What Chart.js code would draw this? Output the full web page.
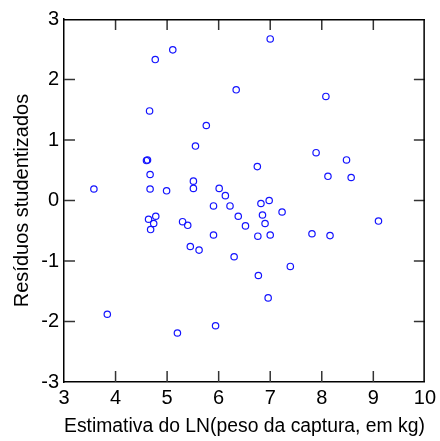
<!DOCTYPE html>
<html>
<head>
<meta charset="utf-8">
<script src="https://cdn.jsdelivr.net/npm/chart.js@4.4.1/dist/chart.umd.min.js"></script>
<style>
html,body{margin:0;padding:0;background:#fff;}
canvas{display:block;}
</style>
</head>
<body>
<canvas id="c" width="440" height="441"></canvas>
<script>
const xValues = [3.58, 4.77, 5.11, 6.34, 4.66, 5.76, 5.55, 4.60, 4.62, 4.67, 5.51, 4.67, 4.99, 5.51, 6.01, 6.13, 6.75, 7.00, 8.08, 7.89, 8.48, 8.12, 8.57, 6.98, 5.90, 6.22, 4.78, 4.64, 4.74, 4.68, 5.30, 5.40, 6.38, 6.52, 6.76, 5.90, 5.45, 5.62, 6.30, 3.84, 5.20, 5.94, 6.82, 6.85, 7.23, 6.90, 7.00, 7.81, 8.16, 9.10, 7.39, 6.77, 6.96];
const yValues = [0.19, 2.33, 2.49, 1.83, 1.48, 1.24, 0.90, 0.66, 0.67, 0.43, 0.32, 0.19, 0.16, 0.20, 0.20, 0.08, 0.56, 2.67, 1.72, 0.79, 0.67, 0.40, 0.38, 0.00, -0.09, -0.09, -0.26, -0.31, -0.38, -0.48, -0.35, -0.41, -0.26, -0.42, -0.59, -0.57, -0.76, -0.82, -0.93, -1.88, -2.19, -2.07, -0.05, -0.24, -0.19, -0.38, -0.57, -0.55, -0.58, -0.34, -1.09, -1.24, -1.61];
const xTickValues = [4, 5, 6, 7, 8, 9];
const yTickValues = [-2, -1, 0, 1, 2];
const xTitle = "Estimativa do LN(peso da captura, em kg)";
const yTitle = "Resíduos studentizados";

const points = xValues.map((x, i) => ({x: x, y: yValues[i]}));
const FONT = "'Liberation Sans', Arial, Helvetica, sans-serif";

const frame = {
  id: 'frame',
  afterDraw(chart) {
    const ctx = chart.ctx;
    const a = chart.chartArea;
    const xs = chart.scales.x, ys = chart.scales.y;
    ctx.save();
    ctx.strokeStyle = '#333';
    ctx.lineWidth = 1.5;
    ctx.lineCap = 'butt';
    xTickValues.forEach(v => {
      const p = xs.getPixelForValue(v);
      ctx.beginPath();
      ctx.moveTo(p, a.bottom);
      ctx.lineTo(p, a.bottom - 11);
      ctx.stroke();
      ctx.beginPath();
      ctx.moveTo(p, a.top);
      ctx.lineTo(p, a.top + 11);
      ctx.stroke();
    });
    yTickValues.forEach(v => {
      const p = ys.getPixelForValue(v);
      ctx.beginPath();
      ctx.moveTo(a.left, p);
      ctx.lineTo(a.left + 11, p);
      ctx.stroke();
      ctx.beginPath();
      ctx.moveTo(a.right, p);
      ctx.lineTo(a.right - 11, p);
      ctx.stroke();
    });
    ctx.fillStyle = '#000';
    ctx.fillRect(a.left, a.top, a.right - a.left, 1.5);
    ctx.fillRect(a.right - 1.5, a.top, 1.5, a.bottom - a.top);
    ctx.restore();
  }
};

new Chart(document.getElementById('c'), {
  type: 'scatter',
  data: {
    datasets: [{
      data: points,
      pointStyle: 'circle',
      pointRadius: 3.2,
      pointBorderWidth: 1.2,
      borderColor: 'rgb(20,20,255)',
      backgroundColor: 'rgba(0,0,0,0)',
      pointHoverRadius: 3.2
    }]
  },
  options: {
    responsive: false,
    animation: false,
    events: [],
    layout: {padding: {top: 19, right: 14, bottom: 0, left: 0}},
    plugins: {legend: {display: false}, tooltip: {enabled: false}},
    scales: {
      x: {
        type: 'linear', min: 3, max: 10,
        afterFit(s) { s.height = 59; },
        ticks: {stepSize: 1, color: '#000', padding: 4, font: {family: FONT, size: 20}, maxRotation: 0},
        grid: {display: false, drawTicks: false},
        border: {display: true, color: '#000', width: 1.5},
        title: {display: true, text: xTitle, color: '#000', font: {family: FONT, size: 20}, padding: {top: 0, bottom: 3}}
      },
      y: {
        type: 'linear', min: -3, max: 3,
        afterFit(s) { s.width = 64; },
        ticks: {stepSize: 1, color: '#000', padding: 5, font: {family: FONT, size: 20}},
        grid: {display: false, drawTicks: false},
        border: {display: true, color: '#000', width: 1.5},
        title: {display: true, text: yTitle, color: '#000', font: {family: FONT, size: 20}, padding: {top: 10, bottom: 0}}
      }
    }
  },
  plugins: [frame]
});
</script>
</body>
</html>
